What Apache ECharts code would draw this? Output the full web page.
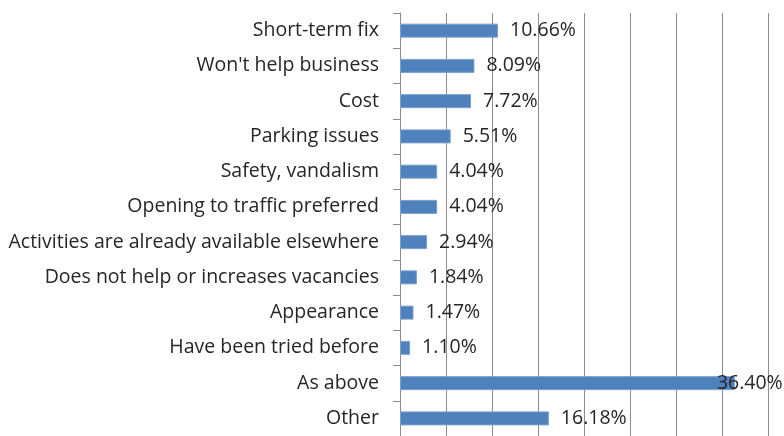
<!DOCTYPE html>
<html>
<head>
<meta charset="utf-8">
<script src="https://cdn.jsdelivr.net/npm/echarts@6/dist/echarts.min.js"></script>
<style>
  html, body { margin: 0; padding: 0; background: #fff; }
  #chart { width: 784px; height: 436px; }
</style>
</head>
<body>
<div id="chart"></div>
<script>
// categories, top to bottom
const categories = [
  'Short-term fix',
  "Won't help business",
  'Cost',
  'Parking issues',
  'Safety, vandalism',
  'Opening to traffic preferred',
  'Activities are already available elsewhere',
  'Does not help or increases vacancies',
  'Appearance',
  'Have been tried before',
  'As above',
  'Other'
];
const percents = [10.66, 8.09, 7.72, 5.51, 4.04, 4.04, 2.94, 1.84, 1.47, 1.10, 36.40, 16.18];
const xTicks = [0, 5, 10, 15, 20, 25, 30, 35, 40];

const chart = echarts.init(document.getElementById('chart'));

// the big bar's label would run off the plot, so it is pulled back over the bar end
const barData = percents.map(v => {
  if (v > 30) {
    return { value: v, label: { offset: [-30, 0] } };
  }
  return v;
});

const option = {
  animation: false,
  grid: { left: 400, top: 13, width: 368, height: 426, containLabel: false },
  xAxis: {
    type: 'value',
    min: xTicks[0],
    max: xTicks[xTicks.length - 1],
    interval: 5,
    axisLabel: { show: false },
    axisTick: { show: false },
    axisLine: { show: false },
    splitLine: { show: true, lineStyle: { color: '#8c8c8c', width: 1 } }
  },
  yAxis: {
    type: 'category',
    inverse: true,
    data: categories,
    axisLine: { show: true, lineStyle: { color: '#8c8c8c', width: 1 } },
    axisTick: { show: true, length: 7, lineStyle: { color: '#8c8c8c' } },
    axisLabel: {
      margin: 21,
      color: '#262626',
      fontFamily: 'Open Sans',
      fontSize: 19.5
    }
  },
  series: [{
    type: 'bar',
    data: barData,
    barWidth: 14,
    itemStyle: { color: '#4f81bd', borderColor: '#7da0cc', borderWidth: 1 },
    label: {
      show: true,
      position: 'right',
      distance: 12,
      color: '#262626',
      fontFamily: 'Open Sans',
      fontSize: 19.5,
      formatter: p => p.value.toFixed(2) + '%'
    }
  }]
};

chart.setOption(option);
</script>
</body>
</html>
